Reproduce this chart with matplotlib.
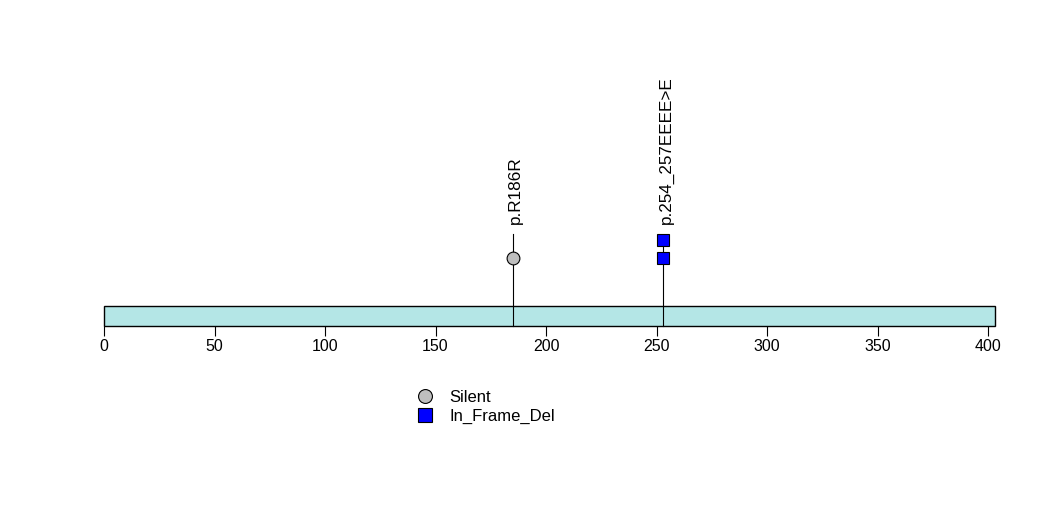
import matplotlib
matplotlib.use("Agg")
import matplotlib.pyplot as plt
from matplotlib.patches import Rectangle
from matplotlib.lines import Line2D
from matplotlib import font_manager

# ---- data ----
protein_length = 403
mut_positions = [185, 253]
mut_counts = [1, 2]
mut_labels = ["p.R186R", "p.254_257EEEE>E"]
mut_types = ["Silent", "In_Frame_Del"]
type_colors = {"Silent": "#BEBEBE", "In_Frame_Del": "#0000FF"}
type_markers = {"Silent": "o", "In_Frame_Del": "s"}
xticks = [0, 50, 100, 150, 200, 250, 300, 350, 400]

names = {f.name for f in font_manager.fontManager.ttflist}
main_font = "Liberation Sans" if "Liberation Sans" in names else "DejaVu Sans"
tick_font = "Liberation Sans Narrow" if "Liberation Sans Narrow" in names else main_font

W, H = 1047, 524
fig = plt.figure(figsize=(W / 100, H / 100), dpi=100)
ax = fig.add_axes([0, 0, 1, 1])
px_per_unit = 2.21
x0_px = 104
ax.set_xlim(-x0_px / px_per_unit, (W - x0_px) / px_per_unit)
# y: bar from 0 to 1 (20 px per unit), bar bottom at pixel 326
ax.set_ylim(-(H - 326) / 20, 326 / 20)

for s in ax.spines.values():
    s.set_visible(False)
ax.spines["bottom"].set_position(("data", 0))
ax.set_yticks([])
ax.set_xticks(xticks)
ax.set_xticklabels([str(t) for t in xticks], fontsize=11.5, family=tick_font)
ax.tick_params(axis="x", direction="out", length=7.2, width=0.8, pad=2.5, color="black")

# protein bar
ax.add_patch(Rectangle((0, 0), protein_length, 1, facecolor="#B4E6E6",
                       edgecolor="black", linewidth=1.0, zorder=2))

base = 3.4
step = 0.9
for pos, cnt, lab, t in zip(mut_positions, mut_counts, mut_labels, mut_types):
    top_marker = base + step * (cnt - 1)
    stem_top = top_marker + (1.2 if cnt == 1 else 0)
    ax.plot([pos, pos], [0, stem_top], color="black", linewidth=0.8, zorder=3)
    for k in range(cnt):
        ax.plot(pos, base + step * k, marker=type_markers[t], markersize=9.2,
                markerfacecolor=type_colors[t], markeredgecolor="black",
                markeredgewidth=0.8, linestyle="none", zorder=4)
    ax.text(pos + 1.3, 5.1, lab, rotation=90, ha="center", va="bottom",
            fontsize=12.3, family=main_font, zorder=5)

handles = [Line2D([], [], marker=type_markers[t], linestyle="none", markersize=10,
                  markerfacecolor=type_colors[t], markeredgecolor="black",
                  markeredgewidth=0.8) for t in mut_types]
fig.legend(handles, mut_types, loc="upper left",
           bbox_to_anchor=(416.7 / W, 1 - 390.0 / H), bbox_transform=fig.transFigure,
           frameon=False, borderpad=0, borderaxespad=0, handlelength=1.0,
           handletextpad=0.94, labelspacing=0.25,
           prop={"family": main_font, "size": 12})

fig.savefig("out.png", dpi=100)
